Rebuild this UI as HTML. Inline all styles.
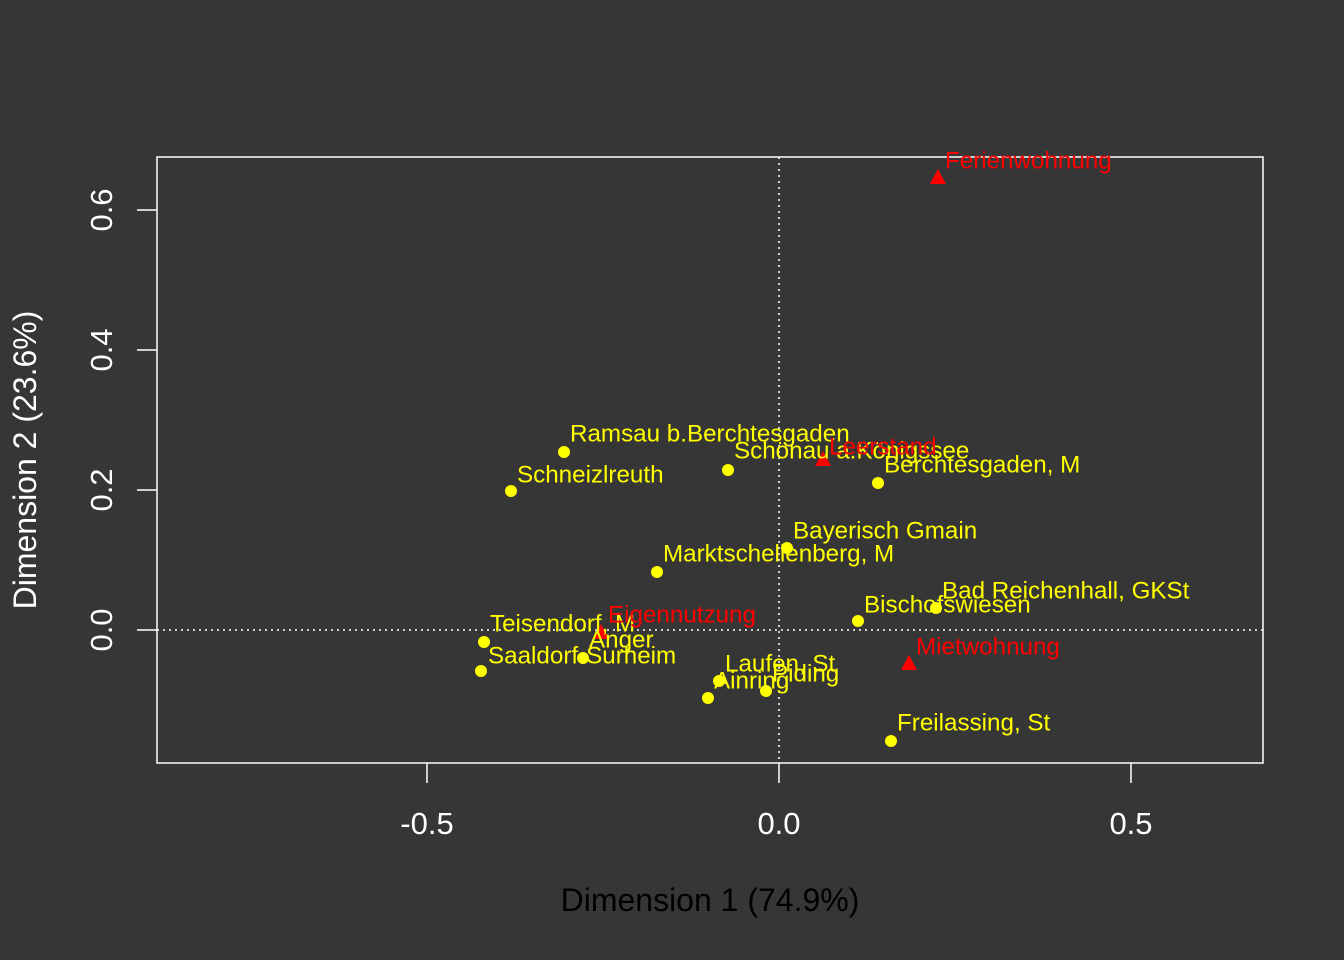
<!DOCTYPE html>
<html><head><meta charset="utf-8"><style>html,body{margin:0;padding:0;background:#363636;overflow:hidden;width:1344px;height:960px}svg{display:block}</style></head><body>
<svg width="1344" height="960" xmlns="http://www.w3.org/2000/svg" font-family="Liberation Sans, Arial, sans-serif">
<rect width="1344" height="960" fill="#363636"/>
<rect x="157" y="157" width="1106" height="606" fill="none" stroke="#fff" stroke-width="1.5"/>
<line x1="779" y1="157" x2="779" y2="763" stroke="#fff" stroke-dasharray="2,4" stroke-width="1.5"/>
<line x1="157" y1="630" x2="1263" y2="630" stroke="#fff" stroke-dasharray="2,4" stroke-width="1.5"/>
<g stroke="#fff" stroke-width="1.5">
<line x1="427" y1="763" x2="427" y2="783"/><line x1="779" y1="763" x2="779" y2="783"/><line x1="1131" y1="763" x2="1131" y2="783"/>
<line x1="157" y1="630" x2="137" y2="630"/><line x1="157" y1="490" x2="137" y2="490"/><line x1="157" y1="350" x2="137" y2="350"/><line x1="157" y1="210" x2="137" y2="210"/>
</g>
<g fill="#fff" font-size="31" text-anchor="middle">
<text x="427" y="834">-0.5</text><text x="779" y="834">0.0</text><text x="1131" y="834">0.5</text>
<text transform="translate(112,630) rotate(-90)">0.0</text>
<text transform="translate(112,490) rotate(-90)">0.2</text>
<text transform="translate(112,350) rotate(-90)">0.4</text>
<text transform="translate(112,210) rotate(-90)">0.6</text>
</g>
<text transform="translate(36,460) rotate(-90)" font-size="32" text-anchor="middle" fill="#fff">Dimension 2 (23.6%)</text>
<text x="710" y="911" font-size="32" text-anchor="middle" fill="#000">Dimension 1 (74.9%)</text>
<g fill="#ffff00">
<circle cx="564" cy="452" r="6"/><circle cx="511" cy="491" r="6"/><circle cx="728" cy="470" r="6"/><circle cx="878" cy="483" r="6"/><circle cx="787" cy="548" r="6"/><circle cx="657" cy="572" r="6"/><circle cx="936" cy="608" r="6"/><circle cx="858" cy="621" r="6"/><circle cx="484" cy="642" r="6"/><circle cx="481" cy="671" r="6"/><circle cx="583" cy="658" r="6"/><circle cx="719" cy="681" r="6"/><circle cx="708" cy="698" r="6"/><circle cx="766" cy="691" r="6"/><circle cx="891" cy="741" r="6"/>
</g>
<g fill="#ff0000">
<polygon points="938,169 946,184 930,184"/><polygon points="823,451 831,466 815,466"/><polygon points="601,624 609,639 593,639"/><polygon points="909,655 917,670 901,670"/>
</g>
<g fill="#ffff00" font-size="24.2" dominant-baseline="central">
<text x="570" y="434">Ramsau b.Berchtesgaden</text>
<text x="517" y="475">Schneizlreuth</text>
<text x="734" y="451">Schönau a.Königssee</text>
<text x="884" y="465">Berchtesgaden, M</text>
<text x="793" y="531">Bayerisch Gmain</text>
<text x="663" y="554">Marktschellenberg, M</text>
<text x="942" y="591">Bad Reichenhall, GKSt</text>
<text x="864" y="605">Bischofswiesen</text>
<text x="490" y="624">Teisendorf, M</text>
<text x="488" y="656">Saaldorf-Surheim</text>
<text x="589" y="640">Anger</text>
<text x="725" y="664">Laufen, St</text>
<text x="714" y="681">Ainring</text>
<text x="772" y="674">Piding</text>
<text x="897" y="723">Freilassing, St</text>
</g>
<g fill="#ff0000" font-size="24.2" dominant-baseline="central">
<text x="945" y="161">Ferienwohnung</text>
<text x="829" y="447">Leerstand</text>
<text x="608" y="615">Eigennutzung</text>
<text x="916" y="647">Mietwohnung</text>
</g>
</svg>
</body></html>
